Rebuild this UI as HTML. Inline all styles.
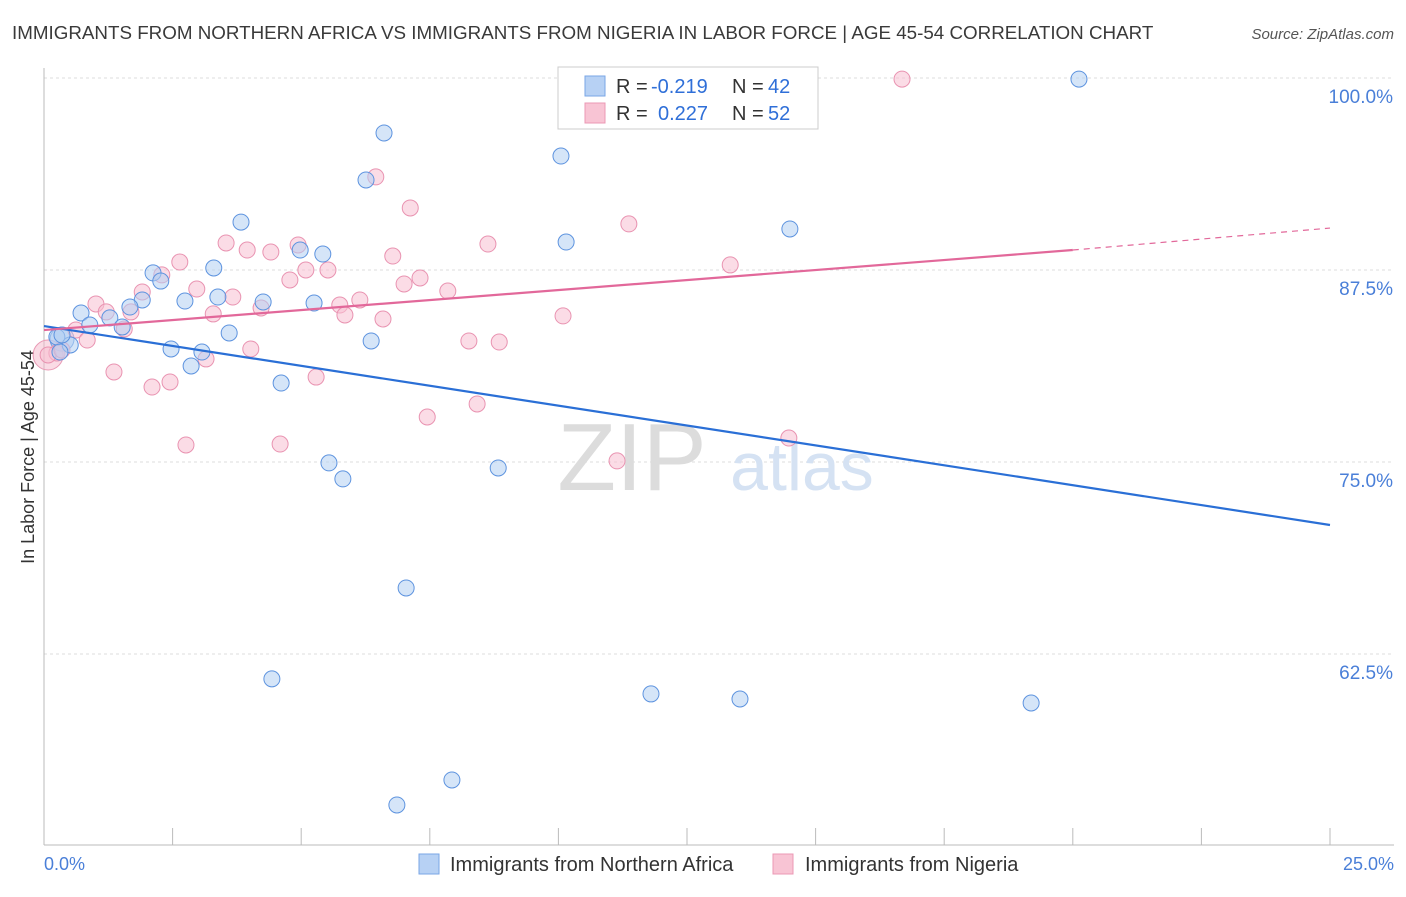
<!DOCTYPE html>
<html><head><meta charset="utf-8">
<style>
body{margin:0;background:#fff;font-family:"Liberation Sans",sans-serif;}
svg text{font-family:"Liberation Sans",sans-serif;}
</style></head>
<body>
<svg id="chart" width="1406" height="892" viewBox="0 0 1406 892" xmlns="http://www.w3.org/2000/svg">
<text x="12" y="39" font-size="18.8" fill="#3a3a3a">IMMIGRANTS FROM NORTHERN AFRICA VS IMMIGRANTS FROM NIGERIA IN LABOR FORCE | AGE 45-54 CORRELATION CHART</text>
<text x="1394" y="39" font-size="15" fill="#555" font-style="italic" text-anchor="end">Source: ZipAtlas.com</text>
<g id="grid"></g>
<g>
<text x="632" y="490" font-size="96" fill="#dcdcdc" font-family="Liberation Serif,serif" text-anchor="middle">ZIP</text>
<text x="802" y="490" font-size="68" fill="#d5e2f3" text-anchor="middle">atlas</text>
</g>
<line x1="44" y1="68" x2="44" y2="845" stroke="#bbb"/>
<line x1="44" y1="845" x2="1394" y2="845" stroke="#bbb"/>
<g id="xticks"></g>
<g id="ylabels"></g>
<text x="44" y="870" font-size="18" fill="#4a7fd8">0.0%</text>
<text x="1394" y="870" font-size="18" fill="#4a7fd8" text-anchor="end">25.0%</text>
<text transform="translate(34,457) rotate(-90)" font-size="18" fill="#333" text-anchor="middle">In Labor Force | Age 45-54</text>
<g id="points"></g>
<g id="trends"></g>
<g>
<rect x="558" y="67" width="260" height="62" fill="#fff" stroke="#ccc"/>
<rect x="585" y="76" width="20" height="20" fill="#b7d1f4" stroke="#7aa6e6"/>
<rect x="585" y="103" width="20" height="20" fill="#f8c4d4" stroke="#eb98b4"/>
<g font-size="20" fill="#333">
<text x="616" y="93">R =</text><text x="651" y="93" fill="#2f6fd8">-0.219</text><text x="732" y="93">N =</text><text x="768" y="93" fill="#2f6fd8">42</text>
<text x="616" y="120">R =</text><text x="658" y="120" fill="#2f6fd8">0.227</text><text x="732" y="120">N =</text><text x="768" y="120" fill="#2f6fd8">52</text>
</g>
</g>
<g>
<rect x="419" y="854" width="20" height="20" fill="#b7d1f4" stroke="#7aa6e6"/>
<text x="450" y="871" font-size="20" fill="#333">Immigrants from Northern Africa</text>
<rect x="773" y="854" width="20" height="20" fill="#f8c4d4" stroke="#eb98b4"/>
<text x="805" y="871" font-size="20" fill="#333">Immigrants from Nigeria</text>
</g>
</svg>
<script>
const yTicks=[62.5,75,87.5,100];
const yTickLabels=["62.5%","75.0%","87.5%","100.0%"];
const xTicks=[0,2.5,5,7.5,10,12.5,15,17.5,20,22.5,25];
const blueX=[20.12,6.61,10.05,6.26,3.83,10.15,14.50,4.98,5.42,3.30,2.12,2.27,2.74,3.38,4.26,5.25,1.91,1.67,0.72,1.28,0.89,1.52,3.60,0.25,0.51,6.36,2.47,3.07,2.86,4.61,5.54,5.81,8.83,7.04,4.43,11.80,13.53,19.19,7.93,6.86,0.31,0.35];
const blueY=[99.93,96.42,94.92,93.36,90.62,89.32,90.17,88.80,88.54,87.63,87.31,86.78,85.48,85.74,85.42,85.35,85.55,85.09,84.70,84.38,83.92,83.79,83.40,83.14,82.62,82.88,82.36,82.16,81.25,80.14,74.94,73.90,74.61,66.80,60.88,59.90,59.57,59.31,54.30,52.67,82.16,83.27];
const pinkX=[16.68,6.45,7.12,11.37,3.54,3.95,4.41,4.94,8.63,6.78,2.64,13.34,5.09,5.52,7.31,4.78,7.00,7.85,2.29,1.91,3.67,2.97,1.01,4.22,6.14,5.75,5.85,3.29,1.69,10.09,6.59,1.21,1.56,0.62,0.84,8.26,8.85,4.02,3.15,1.36,5.29,2.10,2.45,8.42,7.45,2.76,4.59,11.14,14.48,0.25,0.08,0.35];
const pinkY=[99.93,93.56,91.54,90.50,89.26,88.80,88.67,89.13,89.19,88.41,88.02,87.83,87.50,87.50,86.98,86.85,86.59,86.13,87.18,86.07,85.74,86.26,85.29,85.03,85.55,85.22,84.57,84.64,84.77,84.51,84.31,84.77,83.66,83.59,82.94,82.88,82.81,82.36,81.71,80.86,80.53,79.88,80.21,78.78,77.93,76.11,76.17,75.07,76.56,82.10,81.97,82.29];
const blueTrendX=[0,25];
const blueTrendY=[83.85,70.90];
const pinkTrendX=[0,20,25];
const pinkTrendY=[83.59,88.80,90.23];

const NS="http://www.w3.org/2000/svg";
const sx=v=>44+v/25*1286;
const sy=v=>78+(100-v)*15.36;
function mk(tag,attrs,parent){const e=document.createElementNS(NS,tag);for(const k in attrs)e.setAttribute(k,attrs[k]);parent.appendChild(e);return e;}
const grid=document.getElementById('grid'),yl=document.getElementById('ylabels'),xt=document.getElementById('xticks');
yTicks.forEach((t,i)=>{
  const l=mk('line',{x1:44,x2:1394,y1:sy(t),y2:sy(t),stroke:'#ddd','stroke-dasharray':'3,3'},grid);
  
  
  const tx=mk('text',{x:1393,y:sy(t)+25,'font-size':19,fill:'#4a7fd8','text-anchor':'end'},yl);
  tx.textContent=yTickLabels[i];
  
  
});
xTicks.forEach(t=>{
  const l=mk('line',{x1:sx(t),x2:sx(t),y1:828,y2:845,stroke:'#bbb'},xt);
  
  
});
const pts=document.getElementById('points');
function drawSeries(X,Y,fill,stroke,name){
  X.forEach((x,i)=>{
    const c=mk('circle',{cx:sx(x),cy:sy(Y[i]),r:8,fill:fill,'fill-opacity':0.55,stroke:stroke,'stroke-width':1},pts);
    
    
  });
}
const bb=mk('circle',{cx:sx(0.08),cy:sy(81.97),r:15,fill:'#f5b8cc','fill-opacity':0.5,stroke:'#e99ab5'},pts);


const bb2=mk('circle',{cx:sx(0.35),cy:sy(83.0),r:12,fill:'#a9c8f0','fill-opacity':0.5,stroke:'#6c9de0'},pts);


drawSeries(pinkX,pinkY,'#f7bfd1','#e993b1','point-nigeria');
drawSeries(blueX,blueY,'#b3cff3','#5d93df','point-northern-africa');
const tr=document.getElementById('trends');
const bl=mk('line',{x1:sx(blueTrendX[0]),y1:sy(blueTrendY[0]),x2:sx(blueTrendX[1]),y2:sy(blueTrendY[1]),stroke:'#2a6fd6','stroke-width':2.2},tr);


const pl=mk('line',{x1:sx(pinkTrendX[0]),y1:sy(pinkTrendY[0]),x2:sx(pinkTrendX[1]),y2:sy(pinkTrendY[1]),stroke:'#e2689a','stroke-width':2.2},tr);


const pd=mk('line',{x1:sx(pinkTrendX[1]),y1:sy(pinkTrendY[1]),x2:sx(pinkTrendX[2]),y2:sy(pinkTrendY[2]),stroke:'#e2689a','stroke-width':1.2,'stroke-dasharray':'6,5'},tr);


</script>
</body></html>
